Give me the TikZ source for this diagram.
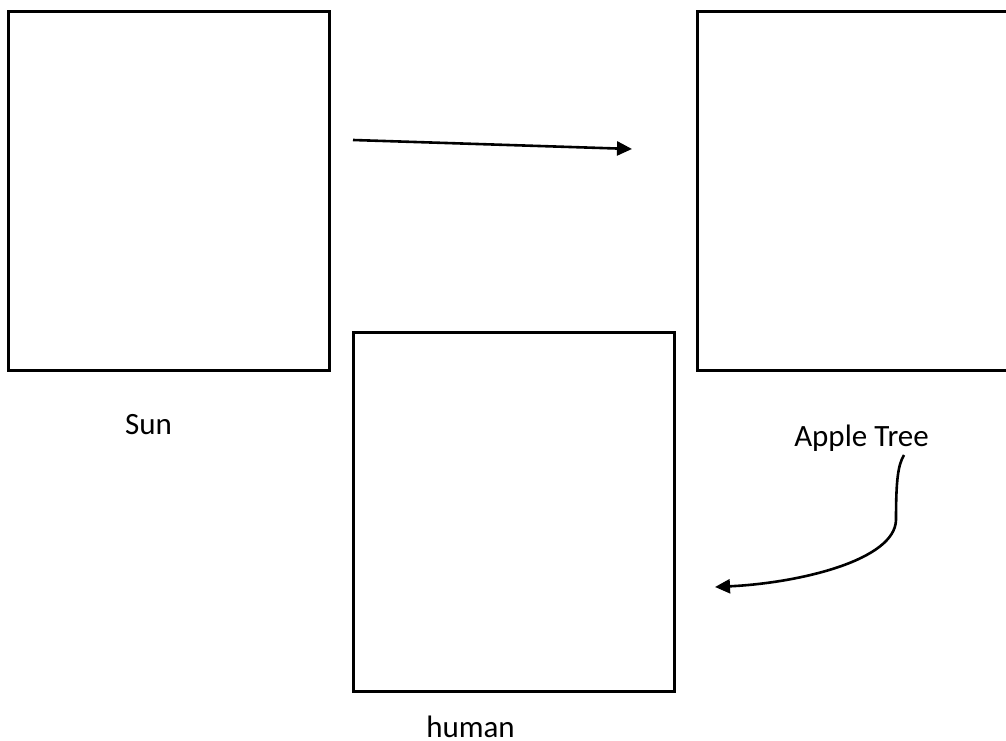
\documentclass[tikz,border=0pt]{standalone}
\usepackage{fontspec}
\setmainfont{Carlito}
\usetikzlibrary{arrows.meta,positioning}
\tikzstyle{panel}=[draw,line width=3pt,minimum width=321pt,minimum height=358pt,inner sep=0pt]
\tikzstyle{caption}=[inner sep=0pt,font=\fontsize{31pt}{37pt}\selectfont]
\tikzstyle{post}=[-{Triangle[length=15pt,width=14pt]},line width=2.6pt]

\begin{document}
\begin{tikzpicture}[x=1pt,y=1pt]
            \useasboundingbox (0,0) rectangle (1006,740);

            \node (sun) [panel] at (168.5,549) {};
            \node (tree) [panel] [right=365pt of sun] {};
            \node (human) [panel] at (513.5,228) {};

            \node (sunname) [caption] [below=43pt of sun, xshift=-20pt] {Sun};
            \node (treename) [caption] [below=53pt of tree, xshift=4pt] {Apple Tree};
            \node (humanname) [caption] [below=23pt of human, xshift=-43pt] {human};

            \coordinate (s1) at (353,600);
            \coordinate (t1) at (632,591);
            \coordinate (t2) at (904,285);
            \coordinate (t3) at (896,220);
            \coordinate (h1) at (715,153);

            \draw[post] (s1) -- (t1);
            \draw[post] (t2) .. controls (898,275) and (896,260) .. (t3)
                             .. controls (895,180) and (800,157) .. (h1);
            \end{tikzpicture}
\end{document}
